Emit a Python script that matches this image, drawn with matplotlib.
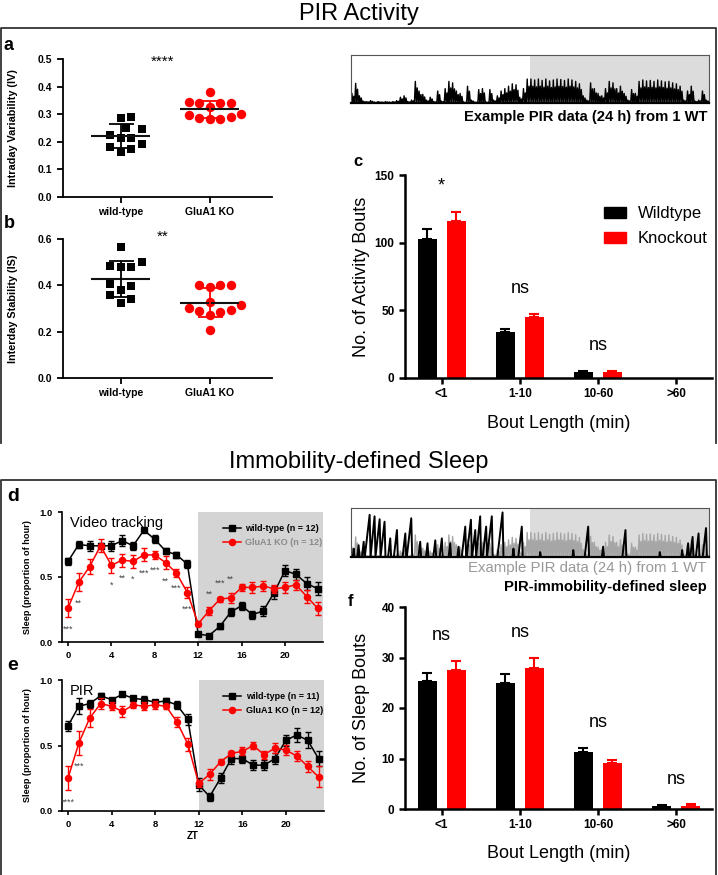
import numpy as np
import matplotlib.pyplot as plt
from matplotlib.lines import Line2D
from matplotlib.patches import Patch

plt.rcParams['font.family'] = ['Liberation Sans', 'DejaVu Sans']

W, H = 718, 875
RED = '#ff0000'

# a / b: circadian measures, one value per animal
groups = ['wild-type', 'GluA1 KO']
iv_wt = [0.291, 0.287, 0.245, 0.250, 0.213, 0.213, 0.224, 0.182, 0.193, 0.162, 0.174]
iv_ko = [0.379, 0.342, 0.341, 0.342, 0.344, 0.326, 0.296, 0.287, 0.282, 0.283, 0.289, 0.301]
is_wt = [0.564, 0.484, 0.478, 0.478, 0.500, 0.397, 0.406, 0.379, 0.357, 0.341, 0.324]
is_ko = [0.403, 0.400, 0.391, 0.403, 0.329, 0.316, 0.292, 0.285, 0.290, 0.304, 0.272, 0.207]

# c / f: bout counts (mean, sem)
bout_bins = ['<1', '1-10', '10-60', '>60']
act_wt = [103, 34, 4.5, 0]
act_wt_sem = [7, 2, 0.6, 0]
act_ko = [116, 45, 4.5, 0]
act_ko_sem = [7, 2.5, 0.6, 0]
act_sig = ['*', 'ns', 'ns', '']
slp_wt = [25.3, 25.0, 11.3, 0.5]
slp_wt_sem = [1.6, 1.7, 0.8, 0.3]
slp_ko = [27.6, 28.0, 9.1, 0.6]
slp_ko_sem = [1.7, 1.9, 0.6, 0.3]
slp_sig = ['ns', 'ns', 'ns', 'ns']

# d / e: hourly sleep (proportion of hour)
zt = np.arange(24)
vid_wt = [0.62, 0.75, 0.74, 0.74, 0.74, 0.78, 0.74, 0.86, 0.79, 0.70, 0.67, 0.60,
          0.06, 0.05, 0.12, 0.23, 0.28, 0.21, 0.24, 0.38, 0.55, 0.52, 0.45, 0.41]
vid_wt_sem = [0.03, 0.03, 0.04, 0.02, 0.04, 0.04, 0.03, 0.01, 0.03, 0.02, 0.02, 0.03,
              0.01, 0.01, 0.02, 0.03, 0.03, 0.03, 0.04, 0.05, 0.04, 0.04, 0.05, 0.05]
vid_ko = [0.26, 0.46, 0.58, 0.74, 0.59, 0.63, 0.62, 0.67, 0.67, 0.61, 0.53, 0.38,
          0.14, 0.24, 0.33, 0.34, 0.42, 0.42, 0.43, 0.41, 0.42, 0.44, 0.35, 0.26]
vid_ko_sem = [0.07, 0.07, 0.06, 0.05, 0.06, 0.05, 0.05, 0.05, 0.03, 0.05, 0.03, 0.04,
              0.02, 0.03, 0.02, 0.04, 0.03, 0.04, 0.04, 0.03, 0.04, 0.04, 0.05, 0.05]
vid_sig_zt = [0, 1, 4, 5, 6, 7, 8, 9, 10, 11, 13, 14, 15]
vid_sig = ['***', '**', '*', '**', '*', '***', '***', '**', '***', '***', '**', '***', '**']

pir_wt = [0.65, 0.80, 0.82, 0.88, 0.85, 0.89, 0.86, 0.85, 0.83, 0.84, 0.81, 0.70,
          0.20, 0.11, 0.25, 0.40, 0.40, 0.35, 0.35, 0.40, 0.54, 0.58, 0.54, 0.40]
pir_wt_sem = [0.04, 0.06, 0.03, 0.02, 0.01, 0.01, 0.02, 0.03, 0.02, 0.02, 0.03, 0.04,
              0.05, 0.03, 0.04, 0.04, 0.03, 0.04, 0.04, 0.04, 0.04, 0.05, 0.06, 0.06]
pir_ko = [0.25, 0.52, 0.71, 0.82, 0.80, 0.76, 0.81, 0.80, 0.81, 0.80, 0.68, 0.51,
          0.21, 0.28, 0.375, 0.44, 0.455, 0.50, 0.43, 0.48, 0.465, 0.42, 0.34, 0.26]
pir_ko_sem = [0.09, 0.09, 0.07, 0.04, 0.03, 0.04, 0.02, 0.03, 0.03, 0.02, 0.04, 0.05,
              0.03, 0.04, 0.02, 0.02, 0.03, 0.03, 0.03, 0.04, 0.04, 0.04, 0.04, 0.08]
pir_sig_zt = [0, 1]
pir_sig = ['****', '***']

# example PIR trace, 15-min bins over 24 h (fraction of trace box height)
pir_trace = [0.20, 0.41, 0.15, 0.04, 0.03, 0.05, 0.02, 0.03, 0.02, 0.03, 0.02, 0.03,
             0.05, 0.12, 0.15, 0.03, 0.06, 0.45, 0.25, 0.18, 0.06, 0.12, 0.03, 0.25,
             0.04, 0.30, 0.45, 0.42, 0.25, 0.20, 0.02, 0.35, 0.06, 0.02, 0.28, 0.30,
             0.02, 0.28, 0.06, 0.15, 0.25, 0.30, 0.35, 0.40, 0.38, 0.12, 0.30, 0.50,
             0.50, 0.48, 0.50, 0.47, 0.50, 0.46, 0.48, 0.50, 0.49, 0.47, 0.50, 0.48,
             0.45, 0.40, 0.15, 0.06, 0.42, 0.30, 0.20, 0.15, 0.30, 0.45, 0.42, 0.30,
             0.35, 0.20, 0.06, 0.28, 0.20, 0.45, 0.48, 0.46, 0.47, 0.45, 0.48, 0.46,
             0.44, 0.45, 0.42, 0.40, 0.35, 0.06, 0.25, 0.35, 0.04, 0.06, 0.25, 0.06]
# immobility-defined sleep counter peaks (hour, height)
sleep_peak_t = [0.18, 0.51, 0.85, 1.25, 1.58, 1.92, 2.25, 2.63, 3.08, 3.64, 4.04, 4.64,
                5.13, 5.65, 6.09, 6.65, 7.21, 7.66, 8.04, 8.33, 8.66, 9.06, 9.44, 10.16,
                10.89, 11.45, 12.68, 14.9, 15.9, 16.9, 18.4, 20.7, 22.2, 22.6, 22.9, 23.3, 23.8]
sleep_peak_h = [0.17, 0.24, 0.31, 0.86, 0.83, 0.77, 0.72, 0.38, 0.55, 0.48, 0.79, 0.31,
                0.28, 0.34, 0.38, 0.28, 0.21, 0.62, 0.76, 0.55, 0.83, 0.62, 0.83, 0.91,
                0.17, 0.62, 0.10, 0.14, 0.62, 0.21, 0.55, 0.10, 0.14, 0.28, 0.41, 0.48, 0.59]

fig = plt.figure(figsize=(W / 100, H / 100), dpi=100)


def add_ax(l, t, r, b):
    return fig.add_axes([l / W, 1 - b / H, (r - l) / W, (b - t) / H])


def ftext(x, y, s, **kw):
    fig.text(x / W, 1 - y / H, s, **kw)


def fline(pts, **kw):
    xs = [p[0] / W for p in pts]
    ys = [1 - p[1] / H for p in pts]
    fig.add_artist(Line2D(xs, ys, transform=fig.transFigure, **kw))


def prism(ax, lw):
    ax.spines['top'].set_visible(False)
    ax.spines['right'].set_visible(False)
    for s in ['left', 'bottom']:
        ax.spines[s].set_linewidth(lw)
    ax.tick_params(width=lw, length=4, direction='out')


def swarm(yv, d):
    order = np.argsort(yv)
    xs = np.zeros(len(yv))
    placed = []
    for i in order:
        for k in [0, 1, -1, 2, -2, 3, -3, 4, -4, 5, -5, 6, -6, 7, -7]:
            x = k * d / 2
            if all((x - px) ** 2 + (yv[i] - py) ** 2 >= d * d for px, py in placed):
                break
        xs[i] = x
        placed.append((x, yv[i]))
    return xs


def dot_panel(ax, wt, ko, ymax, ystep, ylabel, sig, sig_y):
    ax.set_xlim(-0.65, 1.7)
    ax.set_ylim(0, ymax)
    bb = ax.get_window_extent()
    xpx = bb.width / 2.35
    ypx = bb.height / ymax
    for i, (vals, c, m, s) in enumerate([(wt, 'black', 's', 38), (ko, RED, 'o', 46)]):
        v = np.array(vals)
        off = swarm(v * ypx, 10.5) / xpx
        ax.scatter(i + off, v, marker=m, s=s, color=c, lw=0, zorder=3)
        mean, sd = v.mean(), v.std(ddof=1)
        ax.hlines(mean, i - 0.33, i + 0.33, color='#111111', lw=1.5, zorder=4)
        ax.errorbar(i, mean, yerr=sd, fmt='none', ecolor=c, capsize=9, elinewidth=1.3,
                    capthick=1.3, zorder=4)
    prism(ax, 1.3)
    ax.set_xticks([0, 1])
    ax.set_xticklabels(groups, fontsize=7.5, fontweight='bold')
    ax.set_yticks(np.arange(0, ymax + 1e-9, ystep))
    ax.set_yticklabels(['%.1f' % t for t in np.arange(0, ymax + 1e-9, ystep)],
                       fontsize=7.5, fontweight='bold')
    ax.set_ylabel(ylabel, fontsize=7.8, fontweight='bold')
    ax.yaxis.set_label_coords(-0.215, 0.5)
    ax.text(0.47, sig_y, sig, ha='center', va='center', fontsize=11, clip_on=False)


def bar_panel(ax, wt, wt_e, ko, ko_e, sig, ymax, ystep, ylabel):
    x = np.arange(len(bout_bins))
    wt, wt_e, ko, ko_e = map(np.array, (wt, wt_e, ko, ko_e))
    ax.bar(x - 0.185, wt, 0.24, color='black', zorder=2)
    ax.bar(x + 0.185, ko, 0.24, color=RED, zorder=2)
    m = wt > 0
    ax.errorbar(x[m] - 0.185, wt[m], yerr=[np.zeros(m.sum()), wt_e[m]], fmt='none',
                ecolor='black', capsize=3.5, elinewidth=1.5, capthick=1.5, zorder=1)
    m = ko > 0
    ax.errorbar(x[m] + 0.185, ko[m], yerr=[np.zeros(m.sum()), ko_e[m]], fmt='none',
                ecolor=RED, capsize=3.5, elinewidth=1.5, capthick=1.5, zorder=1)
    for i, s in enumerate(sig):
        if s:
            top = max(wt[i] + wt_e[i], ko[i] + ko_e[i])
            ax.text(i, top + 0.125 * ymax, s, ha='center', va='center', fontsize=13)
    ax.set_xlim(-0.47, 3.46)
    ax.set_ylim(0, ymax)
    prism(ax, 1.8)
    ax.set_xticks(x)
    ax.set_xticklabels(bout_bins, fontsize=8.5, fontweight='bold')
    ax.set_yticks(np.arange(0, ymax + 1, ystep))
    ax.set_yticklabels([str(int(t)) for t in np.arange(0, ymax + 1, ystep)],
                       fontsize=8.5, fontweight='bold')
    ax.set_ylabel(ylabel, fontsize=13)
    ax.yaxis.set_label_coords(-0.115, 0.5)
    ax.set_xlabel('Bout Length (min)', fontsize=13)
    ax.xaxis.set_label_coords(0.5, -0.18)


def zt_panel(ax, wt, wt_e, ko, ko_e, n_wt, n_ko, label, sig_zt, sig, ko_txt_color):
    ax.axvspan(12, 23.5, color='#d4d4d4', lw=0, zorder=0)
    ax.errorbar(zt, wt, yerr=wt_e, color='black', marker='s', ms=4.2, lw=1.1,
                capsize=2.3, elinewidth=1, capthick=1, zorder=3)
    ax.errorbar(zt, ko, yerr=ko_e, color=RED, marker='o', ms=4.4, lw=1.1,
                capsize=2.3, elinewidth=1, capthick=1, zorder=4)
    for h, s in zip(sig_zt, sig):
        if ko[h] < wt[h]:
            y = ko[h] - ko_e[h] - 0.09
        else:
            y = ko[h] + ko_e[h] + 0.1
        ax.text(h, y, s, ha='center', va='center', fontsize=6.5, color='#444444')
    ax.set_xlim(-0.55, 23.5)
    ax.set_ylim(0, 1)
    prism(ax, 1.2)
    ax.tick_params(length=3)
    ax.set_xticks([0, 4, 8, 12, 16, 20])
    ax.set_xticklabels(['0', '4', '8', '12', '16', '20'], fontsize=6.8, fontweight='bold')
    ax.set_yticks([0, 0.5, 1.0])
    ax.set_yticklabels(['0.0', '0.5', '1.0'], fontsize=6.8, fontweight='bold')
    ax.set_ylabel('Sleep (proportion of hour)', fontsize=6.6, fontweight='bold')
    ax.yaxis.set_label_coords(-0.115, 0.5)
    ax.text(0.03, 0.97, label, transform=ax.transAxes, fontsize=10.5, va='top')
    hs = [Line2D([], [], color='black', marker='s', ms=4.2, lw=1.1),
          Line2D([], [], color=RED, marker='o', ms=4.4, lw=1.1)]
    leg = ax.legend(hs, ['wild-type (n = %d)' % n_wt, 'GluA1 KO (n = %d)' % n_ko],
                    loc='upper left', bbox_to_anchor=(0.585, 0.97), frameon=False,
                    prop={'size': 6.5, 'weight': 'bold'}, handlelength=2.0,
                    handletextpad=0.5, labelspacing=0.55)
    leg.get_texts()[1].set_color(ko_txt_color)


def trace_ax(ax):
    ax.axvspan(12, 24, color='#dcdcdc', lw=0, zorder=0)
    ax.set_xlim(0, 24)
    ax.set_ylim(0, 1)
    ax.set_xticks([])
    ax.set_yticks([])
    for s in ax.spines.values():
        s.set_linewidth(0.8)
        s.set_color('#555555')
    ax.spines['bottom'].set_color('black')
    ax.spines['bottom'].set_linewidth(1.6)


def zigzag(vals):
    # two spikes per bin: one at the bin's peak level, one a little lower
    n = len(vals)
    x = np.linspace(0, 24, n * 4 + 1)
    y = np.zeros(n * 4 + 1)
    y[1::4] = vals
    y[3::4] = np.array(vals) * 0.7
    return x, y


# frames and section titles
fline([(1, 443), (1, 28), (716, 28), (716, 443)], color='#333333', lw=1.3)
fline([(1, 875), (1, 480), (716, 480), (716, 875)], color='#333333', lw=1.3)
ftext(359, 14, 'PIR Activity', ha='center', va='center', fontsize=17)
ftext(359, 462, 'Immobility-defined Sleep', ha='center', va='center', fontsize=17)

# a, b
ax_a = add_ax(63, 59, 272, 197)
dot_panel(ax_a, iv_wt, iv_ko, 0.5, 0.1, 'Intraday Variability (IV)', '****', 0.49)
ax_b = add_ax(63, 239, 272, 378)
dot_panel(ax_b, is_wt, is_ko, 0.6, 0.2, 'Interday Stability (IS)', '**', 0.61)

# example PIR trace
ax_t1 = add_ax(351, 55, 709, 103)
trace_ax(ax_t1)
tx, ty = zigzag(pir_trace)
ax_t1.plot(tx, ty, color='black', lw=1.0)
ftext(707, 117, 'Example PIR data (24 h) from 1 WT', ha='right', va='center',
      fontsize=10.6, fontweight='bold')

# c
ax_c = add_ax(405, 175, 712, 378)
bar_panel(ax_c, act_wt, act_wt_sem, act_ko, act_ko_sem, act_sig, 150, 50,
          'No. of Activity Bouts')
ax_c.legend(handles=[Patch(color='black', label='Wildtype'), Patch(color=RED, label='Knockout')],
            loc='upper left', bbox_to_anchor=(0.6, 0.92), frameon=False, fontsize=12,
            handlelength=1.3, handleheight=0.6, labelspacing=0.6, handletextpad=0.7)

# d, e
ax_d = add_ax(62, 512, 323, 642)
zt_panel(ax_d, vid_wt, vid_wt_sem, vid_ko, vid_ko_sem, 12, 12, 'Video tracking',
         vid_sig_zt, vid_sig, '#8a8a8a')
ax_e = add_ax(62, 680, 324, 811)
zt_panel(ax_e, pir_wt, pir_wt_sem, pir_ko, pir_ko_sem, 11, 12, 'PIR',
         pir_sig_zt, pir_sig, 'black')
ax_e.set_xlabel('ZT', fontsize=7, fontweight='bold')
ax_e.xaxis.set_label_coords(0.5, -0.15)

# sleep trace
ax_t2 = add_ax(351, 508, 709, 557)
trace_ax(ax_t2)
ax_t2.plot(tx, ty, color='#a6a6a6', lw=1.0)
sx, sy = [0.0], [0.0]
for t, h in zip(sleep_peak_t, sleep_peak_h):
    start = max(t - 0.38 * h, sx[-1])
    sx += [start, t, t + 0.06]
    sy += [0, h, 0]
sx.append(24)
sy.append(0)
ax_t2.plot(sx, sy, color='black', lw=1.4)
ftext(707, 568, 'Example PIR data (24 h) from 1 WT', ha='right', va='center',
      fontsize=10.8, color='#999999')
ftext(707, 587, 'PIR-immobility-defined sleep', ha='right', va='center',
      fontsize=10.6, fontweight='bold')

# f
ax_f = add_ax(405, 607, 712, 809)
bar_panel(ax_f, slp_wt, slp_wt_sem, slp_ko, slp_ko_sem, slp_sig, 40, 10,
          'No. of Sleep Bouts')

# panel letters
for lab, x, y, fs in [('a', 9, 45, 13), ('b', 9, 223, 13), ('c', 358, 162, 12),
                      ('d', 13, 497, 14), ('e', 13, 665, 14), ('f', 350, 602, 12)]:
    ftext(x, y, lab, ha='center', va='center', fontsize=fs, fontweight='bold')

fig.savefig('out.png', dpi=100)
